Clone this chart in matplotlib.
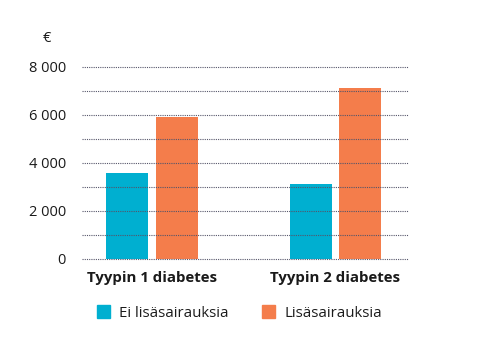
import matplotlib
matplotlib.use('AGG')

import matplotlib.pyplot as plt
from matplotlib.patches import Patch
import numpy as np

plt.rcParams['font.family'] = ['Open Sans', 'DejaVu Sans']

categories = ['Tyypin 1 diabetes', 'Tyypin 2 diabetes']
series_names = ['Ei lisäsairauksia', 'Lisäsairauksia']
ei_lisa = [3580, 3120]
lisa = [5900, 7120]
yticks = [0, 2000, 4000, 6000, 8000]
ytick_labels = ['0', '2 000', '4 000', '6 000', '8 000']

BLUE = '#00AFD0'
ORANGE = '#F47D4B'
TEXT = '#1a1a1a'


def draw():
    fig = plt.figure(figsize=(4.82, 3.56), dpi=100)
    ax = fig.add_axes([82 / 482, 1 - 259 / 356, 326 / 482, (259 - 66.7) / 356])

    x = np.arange(len(categories))
    w = 0.229
    off = 0.136
    ax.bar(x - off, ei_lisa, w, color=BLUE, zorder=1)
    ax.bar(x + off, lisa, w, color=ORANGE, zorder=1)

    for v in range(0, 8001, 1000):
        ax.axhline(v, color='#55556a', lw=0.8, ls=(0, (1, 1)), zorder=2,
                   clip_on=False)

    ax.set_xlim(-0.381, 1.395)
    ax.set_ylim(0, 8000)
    ax.set_yticks(yticks)
    ax.set_yticklabels(ytick_labels, fontsize=10.5, color=TEXT)
    ax.set_xticks([])
    ax.tick_params(axis='y', length=0, pad=11.5)
    for s in ax.spines.values():
        s.set_visible(False)

    for xi, c in zip(x, categories):
        ax.text(xi, -800, c, ha='center', va='center', fontsize=10.8,
                fontweight='bold', color=TEXT)

    fig.text(47 / 482, 1 - 39 / 356, '€', ha='center', va='center',
             fontsize=10.5, color=TEXT)

    handles = [Patch(color=BLUE), Patch(color=ORANGE)]
    fig.legend(handles, series_names, loc='center left',
               bbox_to_anchor=(83 / 482, 1 - 313 / 356), ncol=2,
               frameon=False, fontsize=10.8, handlelength=0.9,
               handleheight=0.9, handletextpad=0.6, columnspacing=2.2,
               labelcolor=TEXT)

    fig.savefig('out.png', dpi=100)
    plt.close(fig)


if __name__ == "__main__":
    draw()
